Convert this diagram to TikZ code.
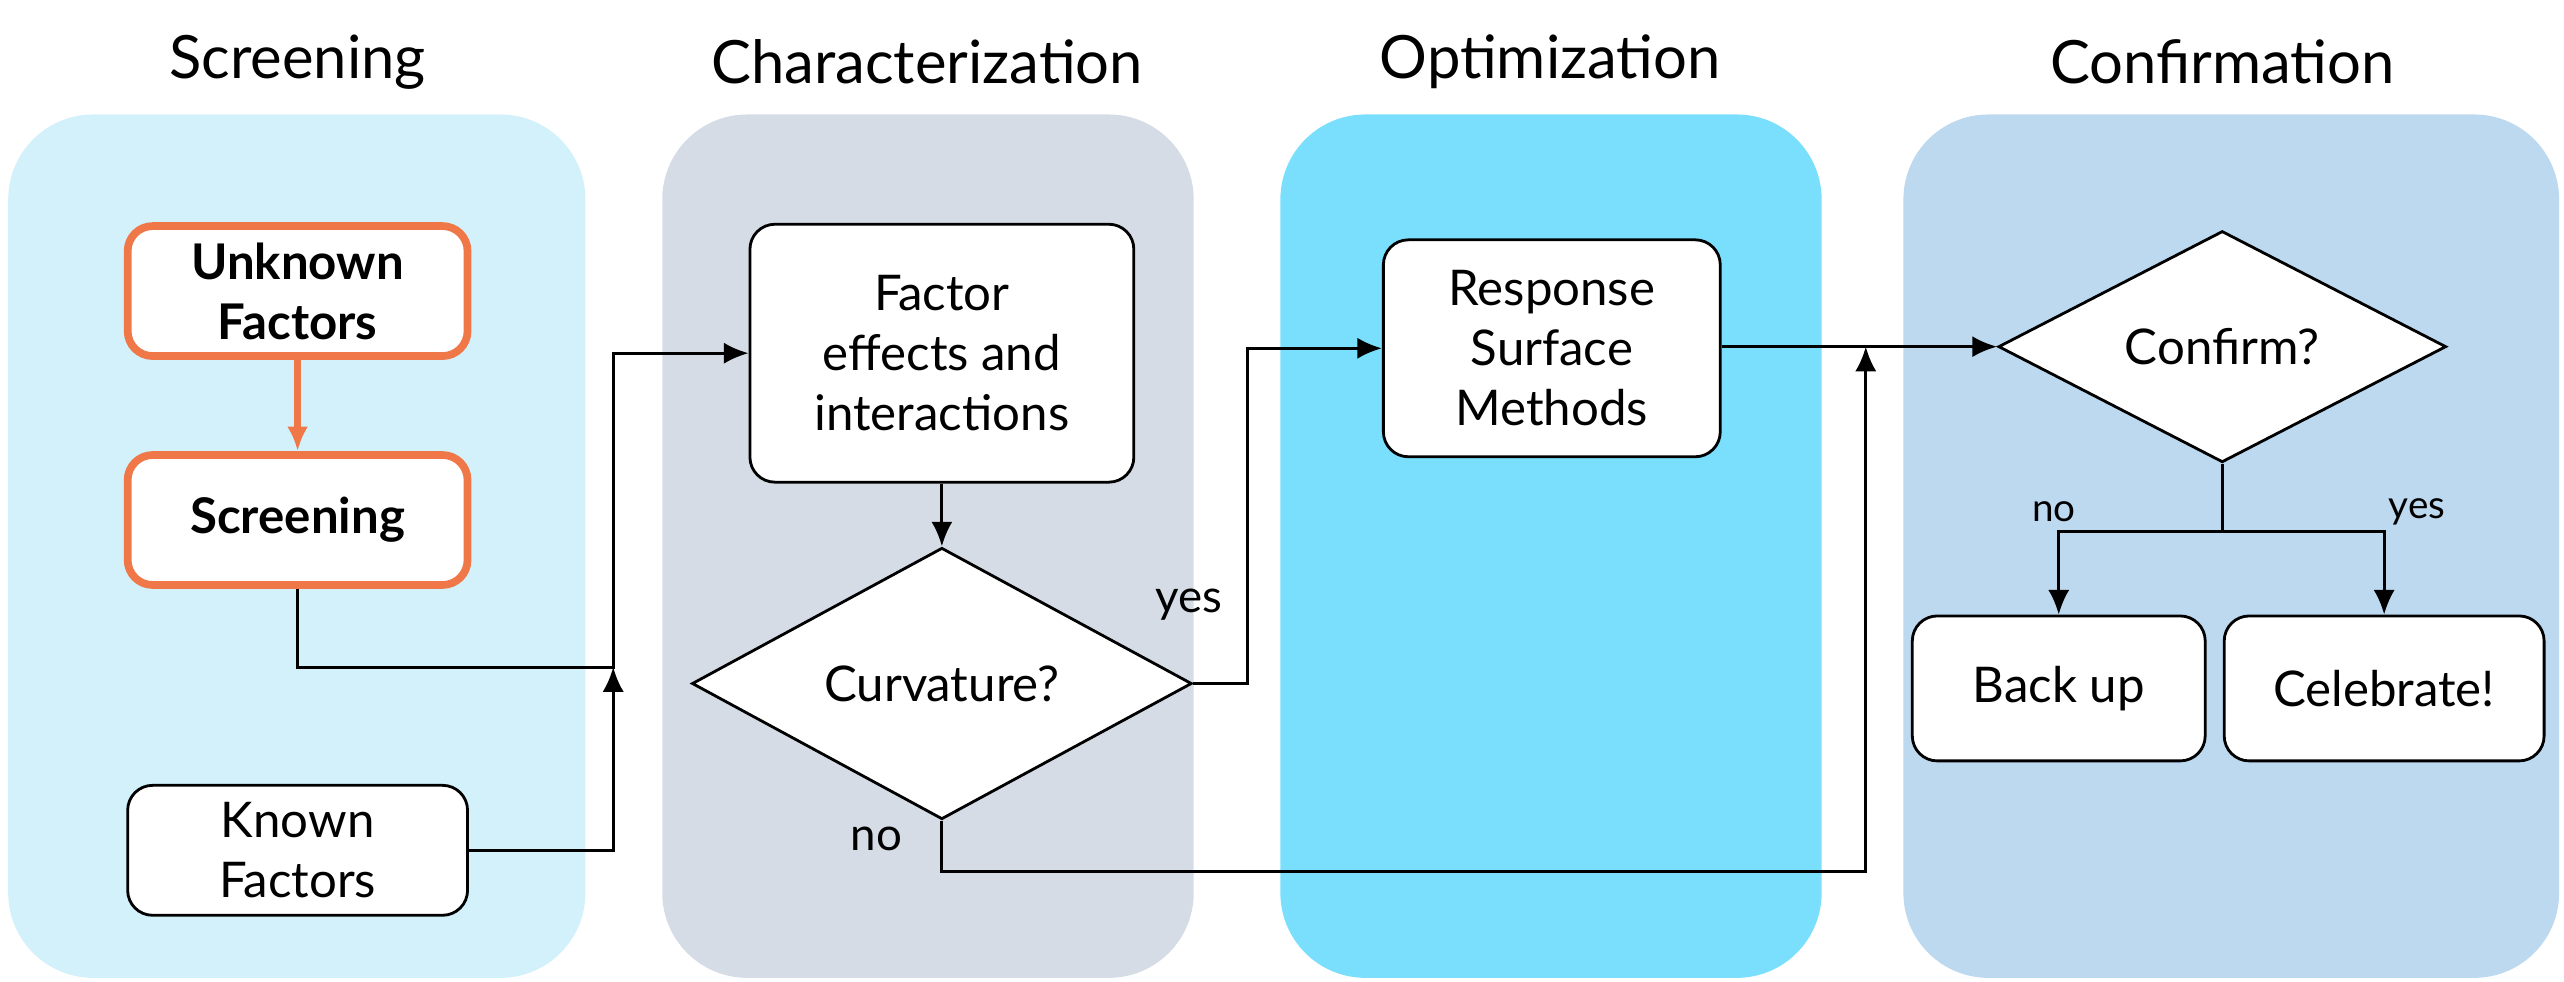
\documentclass[tikz,border=0pt]{standalone}
\usepackage{fontspec}
\setmainfont{Lato}
\usetikzlibrary{shapes.geometric,arrows.meta}
\definecolor{screenbg}{HTML}{D3F1FB}
\definecolor{charbg}{HTML}{D5DCE6}
\definecolor{optbg}{HTML}{7ADFFD}
\definecolor{confbg}{HTML}{BDD9F0}
\definecolor{orangeline}{HTML}{F07848}
\begin{document}
\begin{tikzpicture}[x=0.01635cm, y=-0.01635cm,
          panel/.style={rounded corners=0.85cm, draw=none},
          title/.style={font=\fontsize{17}{20}\selectfont},
          box/.style={rectangle, rounded corners=0.25cm, draw=black, thick, fill=white,
            align=center, font=\fontsize{14}{17}\selectfont},
          hotbox/.style={box, draw=orangeline, line width=2.2pt, font=\bfseries\fontsize{14}{17}\selectfont},
          decision/.style={diamond, draw=black, fill=white, thick, inner sep=0pt,
            font=\fontsize{14}{17}\selectfont},
          flow/.style={-{Latex[length=7pt,width=6pt]}, thick},
          tag/.style={font=\fontsize{11}{13}\selectfont}]

        \useasboundingbox (0,0) rectangle (1568,600);

        % phases
        \fill[panel, screenbg] (5,70) rectangle (358,598);
        \fill[panel, charbg]   (405,70) rectangle (730,598);
        \fill[panel, optbg]    (783,70) rectangle (1114,598);
        \fill[panel, confbg]   (1164,70) rectangle (1565,598);

        \node[title] (tscr)  at (182,38)  {Screening};
        \node[title] (tchar) at (567,38)  {Characterization};
        \node[title] (topt)  at (948,38)  {Optimization};
        \node[title] (tconf) at (1359,38) {Confirmation};

        % screening
        \node[hotbox, minimum width=3.4cm, minimum height=1.3cm] (unknown) at (182,178) {Unknown\\Factors};
        \node[hotbox, minimum width=3.4cm, minimum height=1.3cm] (screen)  at (182,318) {Screening};
        \node[box, minimum width=3.4cm, minimum height=1.3cm]    (known)   at (182,520) {Known\\Factors};

        % characterization
        \node[box, minimum width=3.84cm, minimum height=2.58cm] (effects) at (576,216) {Factor\\effects and\\interactions};
        \node[decision, minimum width=5.0cm, minimum height=2.13cm] (curv) at (576,418) {Curvature?};

        % optimization
        \node[box, minimum width=3.37cm, minimum height=2.17cm] (rsm) at (949,213) {Response\\Surface\\Methods};

        % confirmation
        \node[decision, minimum width=4.48cm, minimum height=2.09cm] (confirm) at (1359,212) {Confirm?};
        \node[box, minimum width=2.93cm, minimum height=1.45cm] (backup) at (1259,421) {Back up};
        \node[box, minimum width=3.2cm, minimum height=1.45cm]  (celeb)  at (1458,421) {Celebrate!};

        \coordinate (join) at (375,408);
        \coordinate (merge) at (1141,212);
        \coordinate (split) at (1359,325);

        \draw[-{Latex[length=7pt,width=6pt]}, orangeline, line width=2.2pt] (unknown) -- (screen);
        \draw[flow] (screen.south) |- (join) |- (effects.west);
        \draw[flow] (known.east) -| (join);
        \draw[flow] (effects) -- (curv);
        \draw[flow] (curv.east) -- (763,418) |- (rsm.west);
        \draw[flow] (curv.south) |- (1141,533) -- (merge);
        \draw[flow] (rsm.east |- merge) -- (confirm.west);
        \draw[thick] (confirm.south) -- (split);
        \draw[flow] (split) -| (backup.north);
        \draw[flow] (split) -| (celeb.north);

        \node[title, font=\fontsize{13}{15}\selectfont] (yes1) at (727,370) {yes};
        \node[title, font=\fontsize{13}{15}\selectfont] (no1)  at (536,513) {no};
        \node[tag] (no2)  at (1256,313) {no};
        \node[tag] (yes2) at (1478,313) {yes};

      \end{tikzpicture}
\end{document}
